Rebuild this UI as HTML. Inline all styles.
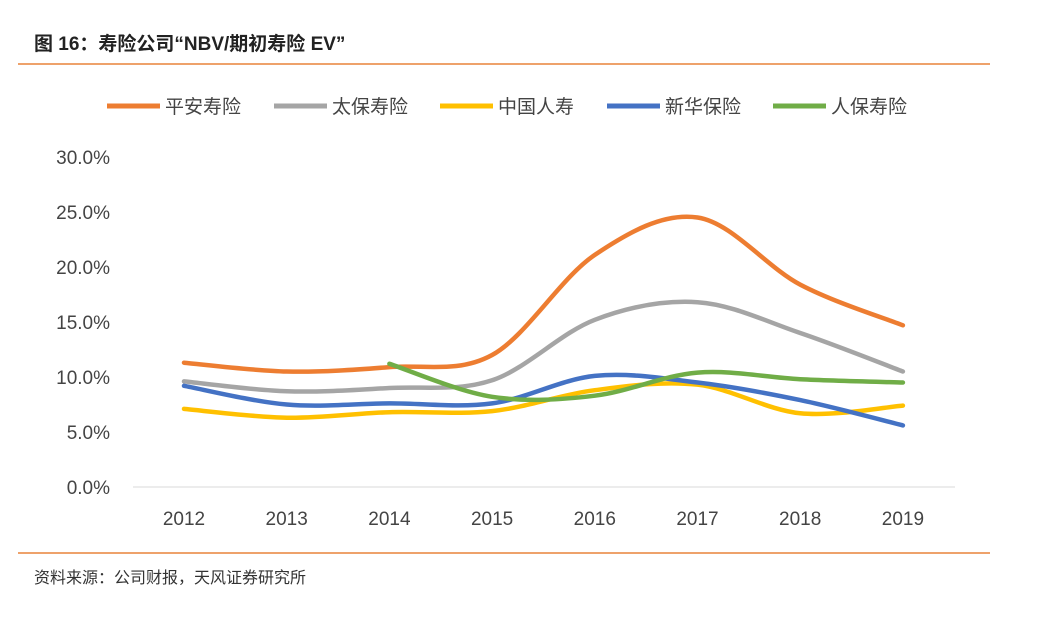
<!DOCTYPE html>
<html><head><meta charset="utf-8"><style>
body{margin:0;background:#fff;width:1039px;height:636px;overflow:hidden;font-family:"Liberation Sans","Noto Sans CJK SC",sans-serif;}
</style></head><body>
<svg width="1039" height="636" xmlns="http://www.w3.org/2000/svg">
<text x="34" y="50" font-size="19" font-weight="bold" fill="#222" font-family="Liberation Sans, Noto Sans CJK SC, sans-serif">图 16：寿险公司“NBV/期初寿险 EV”</text>
<line x1="18" y1="64" x2="990" y2="64" stroke="#e8833a" stroke-width="1.5"/>
<line x1="18" y1="553" x2="990" y2="553" stroke="#e8833a" stroke-width="1.5"/>
<text x="34" y="583" font-size="16" fill="#333" font-family="Liberation Sans, Noto Sans CJK SC, sans-serif">资料来源：公司财报，天风证券研究所</text>
<g id="legend"></g>
<g id="yaxis"></g>
<g id="xaxis"></g>
<g id="series"></g>
</svg>
<script>
const years=["2012","2013","2014","2015","2016","2017","2018","2019"];
const yTicks=[0,5,10,15,20,25,30];
const seriesNames=["平安寿险","太保寿险","中国人寿","新华保险","人保寿险"];
const seriesColors=["#ed7d31","#a5a5a5","#ffc000","#4472c4","#70ad47"];
const pingan=[11.3,10.5,10.9,12.0,21.1,24.5,18.4,14.7];
const taibao=[9.6,8.7,9.0,9.7,15.2,16.8,14.0,10.5];
const chinaLife=[7.1,6.3,6.8,6.9,8.8,9.3,6.7,7.4];
const xinhua=[9.2,7.5,7.6,7.6,10.1,9.5,7.9,5.6];
const picc=[null,null,11.2,8.2,8.3,10.4,9.8,9.5];
const allSeries=[pingan,taibao,chinaLife,xinhua,picc];
const NS="http://www.w3.org/2000/svg";
const x=i=>184+i*102.7;
const y=v=>487-v*11;
function mk(t,a,p){const e=document.createElementNS(NS,t);for(const k in a)e.setAttribute(k,a[k]);p.appendChild(e);return e;}
const ya=document.getElementById('yaxis');
yTicks.forEach(t=>{const e=mk('text',{x:110,y:y(t)+7,'text-anchor':'end','font-size':19,fill:'#444'},ya);e.textContent=t.toFixed(1)+'%';

});
const xa=document.getElementById('xaxis');
const ax=mk('line',{x1:133,y1:487,x2:955,y2:487,stroke:'#d9d9d9','stroke-width':1},xa);


years.forEach((yr,i)=>{const e=mk('text',{x:x(i),y:525,'text-anchor':'middle','font-size':19,fill:'#444'},xa);e.textContent=yr;

});
const sg=document.getElementById('series');
allSeries.forEach((s,si)=>{
  const pts=[];s.forEach((v,i)=>{if(v!=null)pts.push([x(i),y(v)]);});
  let d='M'+pts[0][0]+','+pts[0][1];
  for(let i=0;i<pts.length-1;i++){
    const p0=pts[i-1]||pts[i],p1=pts[i],p2=pts[i+1],p3=pts[i+2]||p2;
    const c1=[p1[0]+(p2[0]-p0[0])/6,p1[1]+(p2[1]-p0[1])/6];
    const c2=[p2[0]-(p3[0]-p1[0])/6,p2[1]-(p3[1]-p1[1])/6];
    d+=` C${c1[0]},${c1[1]} ${c2[0]},${c2[1]} ${p2[0]},${p2[1]}`;
  }
  const p=mk('path',{d:d,fill:'none',stroke:seriesColors[si],'stroke-width':4.5,'stroke-linecap':'round'},sg);
  
  
});
const lg=document.getElementById('legend');
const lx=[107,274,440,607,773];
seriesNames.forEach((n,i)=>{
  const l=mk('line',{x1:lx[i],y1:106,x2:lx[i]+53,y2:106,stroke:seriesColors[i],'stroke-width':5},lg);
  
  
  const t=mk('text',{x:lx[i]+58,y:113,'font-size':19,fill:'#444'},lg);t.textContent=n;
  
  
});
</script>
</body></html>
